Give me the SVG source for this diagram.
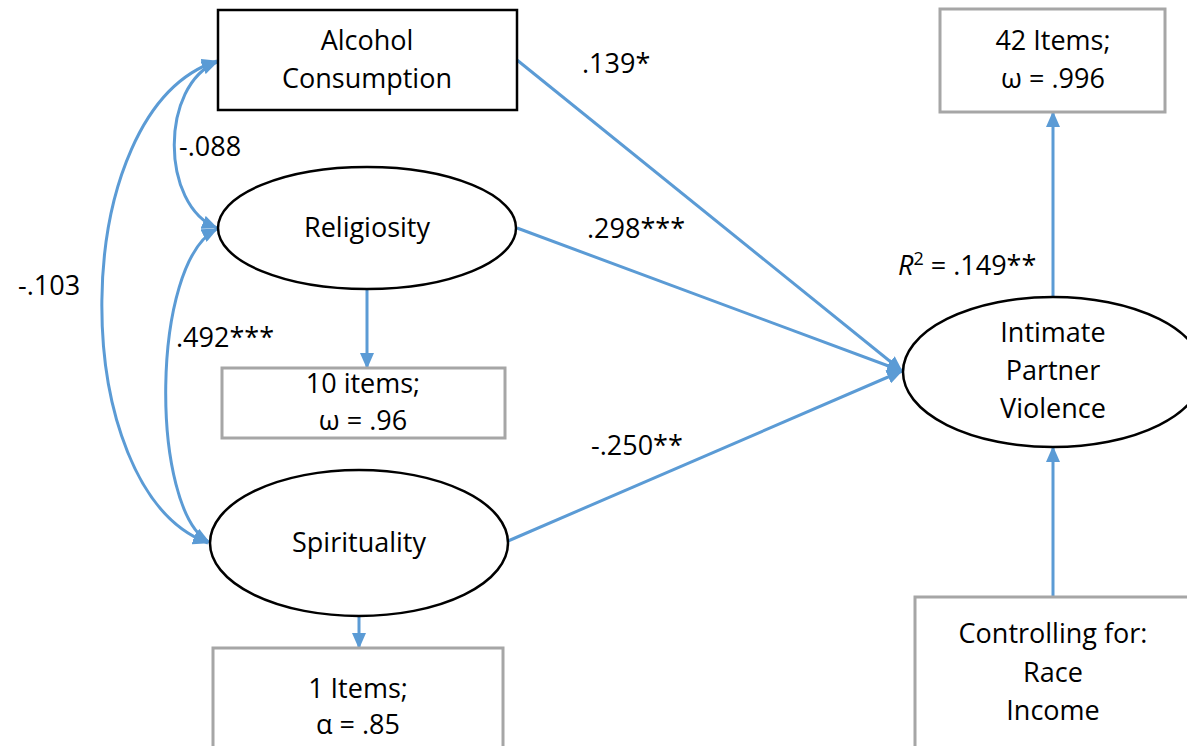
<svg xmlns="http://www.w3.org/2000/svg" width="1187" height="746" viewBox="0 0 1187 746">
<style>
text{font-family:"Open Sans","Liberation Sans",sans-serif;font-size:27px;fill:#000}
.c{text-anchor:middle}
.blk{fill:#fff;stroke:#000;stroke-width:2.5}
.gry{fill:#fff;stroke:#a6a6a6;stroke-width:3}
.ln{fill:none;stroke:#5b9bd5;stroke-width:3}
</style>
<defs>
<marker id="ah" markerUnits="userSpaceOnUse" viewBox="0 0 16 14" refX="15" refY="7" markerWidth="16" markerHeight="14" orient="auto-start-reverse">
<path d="M0,0 L16,7 L0,14 z" fill="#5b9bd5"/>
</marker>
</defs>
<rect width="1187" height="746" fill="#fff"/>
<g id="connectors">
<path class="ln" d="M517,60 L902,371" marker-end="url(#ah)"/>
<path class="ln" d="M517,228 L902,371" marker-end="url(#ah)"/>
<path class="ln" d="M508,541 L902,371" marker-end="url(#ah)"/>
<path class="ln" d="M367,289 L367,368" marker-end="url(#ah)"/>
<path class="ln" d="M359,616 L359,648" marker-end="url(#ah)"/>
<path class="ln" d="M1053,297 L1053,112" marker-end="url(#ah)"/>
<path class="ln" d="M1053,597 L1053,447" marker-end="url(#ah)"/>
<path class="ln" d="M217,62 C160,85 160,205 217,228" marker-start="url(#ah)" marker-end="url(#ah)"/>
<path class="ln" d="M217,229 C150,262 150,510 209,542" marker-start="url(#ah)" marker-end="url(#ah)"/>
<path class="ln" d="M217,61 C65,110 65,490 208,543" marker-start="url(#ah)" marker-end="url(#ah)"/>
</g>
<g id="alcohol">
<rect class="blk" x="218" y="10" width="299" height="100"/>
<text class="c" x="367" y="50">Alcohol</text>
<text class="c" x="367" y="88">Consumption</text>
</g>
<g id="religiosity">
<ellipse class="blk" cx="367" cy="228" rx="149" ry="61"/>
<text class="c" x="367" y="237">Religiosity</text>
</g>
<g id="rel-items">
<rect class="gry" x="222" y="368" width="283" height="70"/>
<text class="c" x="363" y="393">10 items;</text>
<text class="c" x="363" y="430">ω = .96</text>
</g>
<g id="spirituality">
<ellipse class="blk" cx="359" cy="543" rx="149" ry="73"/>
<text class="c" x="359" y="552">Spirituality</text>
</g>
<g id="spi-items">
<rect class="gry" x="213" y="648" width="290" height="110"/>
<text class="c" x="358" y="698">1 Items;</text>
<text class="c" x="358" y="734">α = .85</text>
</g>
<g id="ipv">
<ellipse class="blk" cx="1053" cy="372" rx="150" ry="75"/>
<text class="c" x="1053" y="342">Intimate</text>
<text class="c" x="1053" y="380">Partner</text>
<text class="c" x="1053" y="418">Violence</text>
</g>
<g id="ipv-items">
<rect class="gry" x="940" y="9" width="225" height="103"/>
<text class="c" x="1053" y="50">42 Items;</text>
<text class="c" x="1053" y="88">ω = .996</text>
</g>
<g id="controls">
<rect class="gry" x="915" y="597" width="280" height="160"/>
<text class="c" x="1053" y="643">Controlling for:</text>
<text class="c" x="1053" y="682">Race</text>
<text class="c" x="1053" y="720">Income</text>
</g>
<g id="labels">
<text x="582" y="73">.139*</text>
<text x="179" y="156">-.088</text>
<text x="587" y="238">.298***</text>
<text x="18" y="295">-.103</text>
<text x="176" y="347">.492***</text>
<text x="591" y="455">-.250**</text>
<text x="898" y="275"><tspan font-style="italic">R</tspan><tspan font-size="18" dy="-10">2</tspan><tspan dy="10"> = .149**</tspan></text>
</g>
</svg>
